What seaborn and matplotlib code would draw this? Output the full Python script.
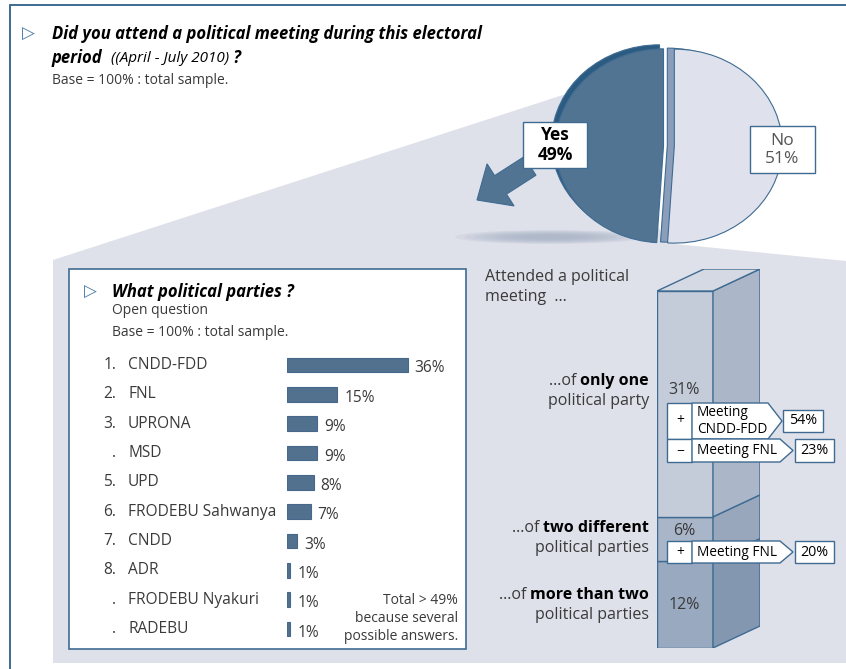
import numpy as np
import pandas as pd
import matplotlib
matplotlib.use("Agg")
import matplotlib.pyplot as plt
from matplotlib.patches import Polygon, Rectangle, Ellipse, FancyArrow
import seaborn as sns

# --- data ---
answers = ["Yes", "No"]
answer_pct = [49, 51]

ranks = ["1.", "2.", "3.", ".", "5.", "6.", "7.", "8.", ".", "."]
parties = ["CNDD-FDD", "FNL", "UPRONA", "MSD", "UPD", "FRODEBU Sahwanya",
           "CNDD", "ADR", "FRODEBU Nyakuri", "RADEBU"]
party_pct = [36, 15, 9, 9, 8, 7, 3, 1, 1, 1]

# stacked column, bottom to top
groups = ["more than two", "two different", "only one"]
group_pct = [12, 6, 31]

callout_signs = ["+", "\u2212", "+"]
callout_labels = ["Meeting\nCNDD-FDD", "Meeting FNL", "Meeting FNL"]
callout_pct = [54, 23, 20]

# --- styling ---
BG = "#dfe1ea"
EDGE = "#3f6b92"
BAR = "#52718f"
YES = "#527493"
YES_DARK = "#2c5b81"
NO = "#dfe2ec"
NO_SIDE = "#8a9dba"
TXT = "#3a3a3a"
FRONT = ["#98a9c0", "#a9b5c8", "#c5ccd9"]
SIDE = ["#8397b0", "#98a7bc", "#abb6c8"]
TOP = "#d5d9e3"

sns.set_theme(style="white")
plt.rcParams['font.family'] = ['Open Sans', 'DejaVu Sans']

W, H = 846, 669
fig = plt.figure(figsize=(W / 100, H / 100), dpi=100)
fig.patch.set_facecolor("white")


def px_axes(x0, y0, x1, y1, z):
    ax = fig.add_axes([x0 / W, 1 - y1 / H, (x1 - x0) / W, (y1 - y0) / H])
    ax.set_zorder(z)
    return ax


# background layer in pixel coords
bg = px_axes(0, 0, W, H, 0)
bg.set_xlim(0, W)
bg.set_ylim(H, 0)
bg.axis("off")
bg.add_patch(Polygon([(53, 260), (600, 83), (665, 243), (846, 261), (846, 663), (53, 663)],
                     closed=True, facecolor=BG, edgecolor="none"))
for i in range(8):
    k = 1 - i * 0.1
    bg.add_patch(Ellipse((550, 237), 190 * k, 14 * k, facecolor="#a3afc3", edgecolor="none", alpha=0.16))
bg.plot([10, 10], [5, H], color=EDGE, lw=1.4)
bg.plot([10, W], [5, 5], color=EDGE, lw=1.4)
# parties box sits under the bars
bg.add_patch(Rectangle((69, 269), 397, 380, facecolor="white", edgecolor=EDGE, lw=1.2))

# pie: back copies give the slices some thickness, then the front pie
layers = [(-4, -4, [YES_DARK, NO_SIDE], 0, 1),
          (-7, -1, [YES_DARK, NO_SIDE], 1, 1),
          (0, 0, [YES, NO], None, 2)]
for dx, dy, cols, keep, z in layers:
    cx, cy, rx, ry = 670 + dx, 146 + dy, 108, 97
    pax = px_axes(cx - 1.25 * rx, cy - 1.25 * ry, cx + 1.25 * rx, cy + 1.25 * ry, z)
    wedges, _ = pax.pie(answer_pct, colors=cols, startangle=90, explode=[0.06, 0.04],
                        wedgeprops=dict(edgecolor=EDGE, linewidth=0.8))
    if keep is not None:
        for j, w in enumerate(wedges):
            w.set_visible(j == keep)
    pax.set_aspect("auto")
    pax.patch.set_visible(False)

# foreground layer for text and callouts
fg = px_axes(0, 0, W, H, 6)
fg.set_xlim(0, W)
fg.set_ylim(H, 0)
fg.axis("off")
fg.patch.set_visible(False)

fg.text(28, 34, "\u25b7", fontsize=12, color="#4a7aa5", va="center", ha="center", family="DejaVu Sans")
fg.text(52, 34, "Did you attend a political meeting during this electoral", fontsize=12,
        weight="bold", style="italic", va="center", color="black")
t = fg.text(52, 58, "period", fontsize=12, weight="bold", style="italic", va="center", color="black")
t = fg.annotate("  ((April - July 2010)", xy=(1, 0.5), xycoords=t, fontsize=11, style="italic",
                va="center", color="black")
fg.annotate(" ?", xy=(1, 0.5), xycoords=t, fontsize=12, weight="bold", style="italic",
            va="center", color="black")
fg.text(52, 80, "Base = 100% : total sample.", fontsize=10, va="center", color=TXT)

# arrow from the Yes slice
fg.add_patch(FancyArrow(530, 166, -53, 34, width=22, head_width=50, head_length=28,
                        length_includes_head=True, color=YES, ec=EDGE, lw=0.8))

# answer boxes
fg.add_patch(Rectangle((523, 122), 64, 46, facecolor="white", edgecolor=EDGE, lw=1))
fg.text(555, 145, f"{answers[0]}\n{answer_pct[0]}%", ha="center", va="center", fontsize=12.5,
        weight="bold", color="black", linespacing=1.1)
fg.add_patch(Rectangle((750, 126), 65, 47, facecolor="white", edgecolor=EDGE, lw=1))
fg.text(782, 150, f"{answers[1]}\n{answer_pct[1]}%", ha="center", va="center", fontsize=12.5,
        color="#555555", linespacing=1.1)

# parties panel text
fg.text(90, 292, "\u25b7", fontsize=12, color="#4a7aa5", va="center", ha="center", family="DejaVu Sans")
fg.text(112, 292, "What political parties ?", fontsize=12, weight="bold", style="italic",
        va="center", color="black")
fg.text(112, 310, "Open question", fontsize=10, va="center", color=TXT)
fg.text(112, 333, "Base = 100% : total sample.", fontsize=10, va="center", color=TXT)
for i, s in enumerate(["Total > 49%", "because several", "possible answers."]):
    fg.text(458, 601 + i * 18, s, fontsize=10, ha="right", va="center", color=TXT)

df = pd.DataFrame({"party": parties, "pct": party_pct})
bax = px_axes(287, 350.3, 455, 643.7, 5)
sns.barplot(data=df, x="pct", y="party", orient="h", color=BAR, width=0.5,
            edgecolor="#46688a", linewidth=0.8, saturation=1, ax=bax)
bax.set_xlim(0, 50)
bax.set_ylim(len(parties) - 0.5, -0.5)
bax.axis("off")
bax.patch.set_visible(False)
ytr = bax.get_yaxis_transform()
for i, (r, p, v) in enumerate(zip(ranks, parties, party_pct)):
    bax.text(-1.018, i, r, transform=ytr, ha="right", va="center", fontsize=11.2, color=TXT)
    bax.text(-0.946, i, p, transform=ytr, ha="left", va="center", fontsize=11.2, color=TXT)
    bax.text(v + 2, i + 0.12, f"{v}%", ha="left", va="center", fontsize=11.2, color=TXT)

# 3D stacked column
dxc, dyc = 0.84, 3.02
cax = px_axes(657, 269, 760, 648, 4)
cax.set_xlim(0, 1 + dxc)
cax.set_ylim(0, sum(group_pct) + dyc)
cax.axis("off")
cax.patch.set_visible(False)
bottoms = np.concatenate([[0], np.cumsum(group_pct)[:-1]])
for v, b, fc, sc in zip(group_pct, bottoms, FRONT, SIDE):
    cax.bar(0, v, bottom=b, width=1, align="edge", color=fc, edgecolor=EDGE, lw=1)
    cax.add_patch(Polygon([(1, b), (1 + dxc, b + dyc), (1 + dxc, b + v + dyc), (1, b + v)],
                          closed=True, facecolor=sc, edgecolor=EDGE, lw=1))
total = sum(group_pct)
cax.add_patch(Polygon([(0, total), (1, total), (1 + dxc, total + dyc), (dxc, total + dyc)],
                      closed=True, facecolor=TOP, edgecolor=EDGE, lw=1))

fg.text(485, 277, "Attended a political", fontsize=11.5, va="center", color=TXT)
fg.text(485, 297, "meeting  \u2026", fontsize=11.5, va="center", color=TXT)

for g, y, sub in zip(groups[::-1], [381, 528, 595],
                     ["political party", "political parties", "political parties"]):
    tb = fg.text(649, y, g, ha="right", va="center", fontsize=11.5, weight="bold", color="black")
    fg.annotate("\u2026of ", xy=(0, 0.5), xycoords=tb, ha="right", va="center", fontsize=11.5, color=TXT)
    fg.text(649, y + 20, sub, ha="right", va="center", fontsize=11.5, color=TXT)

for v, y in zip(group_pct[::-1], [390, 531, 605]):
    fg.text(684, y, f"{v}%", ha="center", va="center", fontsize=11.5, color=TXT)

# callouts: (top, bottom, corner x, tip x, value box x0, x1, value box top, bottom)
boxes = [(403, 439, 768, 782, 783, 823, 410, 432),
         (439, 462, 780, 793, 795, 834, 439, 462),
         (541, 563, 780, 793, 795, 834, 541, 563)]
for (y0, y1, xc, xt, vx0, vx1, vy0, vy1), s, lab, v in zip(boxes, callout_signs, callout_labels, callout_pct):
    fg.add_patch(Rectangle((667, y0), 25, y1 - y0, facecolor="white", edgecolor=EDGE, lw=1))
    fg.add_patch(Polygon([(692, y0), (xc, y0), (xt, (y0 + y1) / 2), (xc, y1), (692, y1)],
                         closed=True, facecolor="white", edgecolor=EDGE, lw=1))
    fg.add_patch(Rectangle((vx0, vy0), vx1 - vx0, vy1 - vy0, facecolor="white", edgecolor=EDGE, lw=1))
    fg.text(680, (y0 + y1) / 2, s, ha="center", va="center", fontsize=10, color="black")
    fg.text(697, (y0 + y1) / 2, lab, ha="left", va="center", fontsize=9.8, color="black",
            linespacing=1.2)
    fg.text((vx0 + vx1) / 2, (vy0 + vy1) / 2, f"{v}%", ha="center", va="center",
            fontsize=10.3, color="black")

fig.savefig("out.png", dpi=100)
